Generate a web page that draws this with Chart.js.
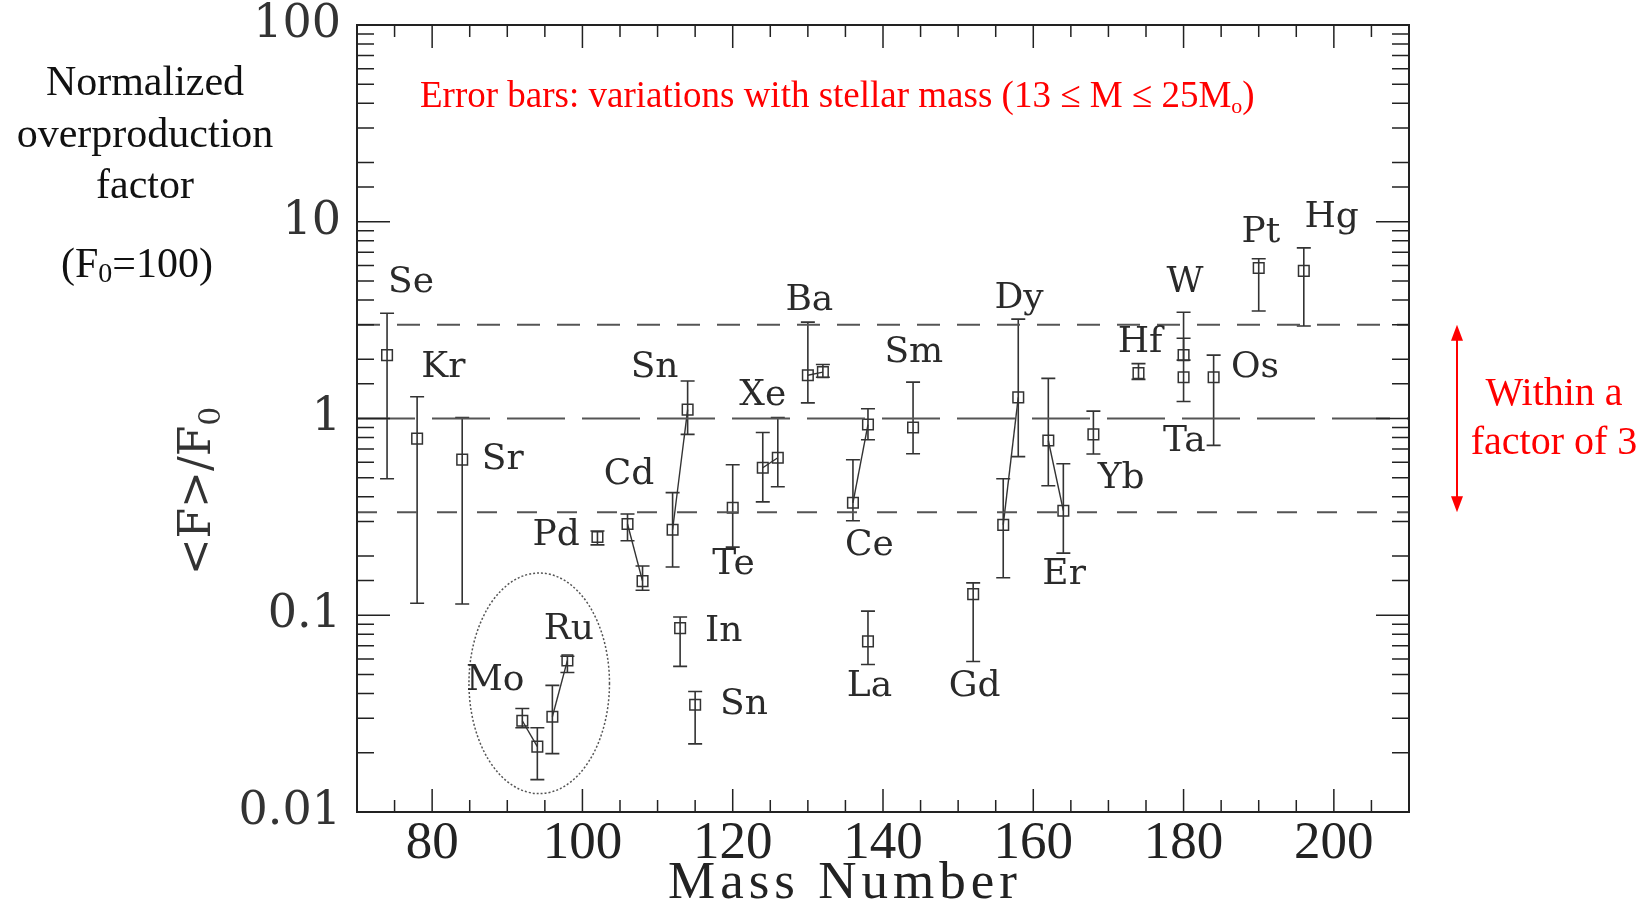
<!DOCTYPE html>
<html>
<head>
<meta charset="utf-8">
<script src="https://cdn.jsdelivr.net/npm/chart.js@4.4.0/dist/chart.umd.min.js"></script>
<style>
html, body { margin: 0; padding: 0; background: #fff; }
</style>
</head>
<body>
<canvas id="myChart" width="1646" height="905"></canvas>
<script>
// p-Kerne: Massenzahl, mittlerer Ueberproduktionsfaktor und Schwankung (Fehlerbalken)
const elements = ['Se', 'Kr', 'Sr', 'Mo', 'Mo', 'Ru', 'Ru', 'Pd', 'Cd', 'Cd', 'Sn', 'In', 'Sn', 'Sn', 'Te',
    'Xe', 'Xe', 'Ba', 'Ba', 'Ce', 'Ce', 'La', 'Sm', 'Gd', 'Dy', 'Dy', 'Er', 'Er', 'Yb', 'Hf', 'W', 'Ta',
    'Os', 'Pt', 'Hg'];
const masses = [74, 78, 84, 92, 94, 96, 98, 102, 106, 108, 112, 113, 114, 115, 120,
    124, 126, 130, 132, 136, 138, 138, 144, 152, 156, 158, 162, 164, 168, 174, 180, 180,
    184, 190, 196];
const values = [2.10, 0.79, 0.618, 0.0291, 0.0215, 0.0305, 0.059, 0.25, 0.291, 0.149, 0.272, 0.086, 1.11, 0.0351, 0.352,
    0.562, 0.632, 1.66, 1.72, 0.373, 0.932, 0.0737, 0.90, 0.128, 0.288, 1.28, 0.773, 0.34, 0.83, 1.70, 2.10, 1.62,
    1.62, 5.82, 5.63];
const errLow = [0.494, 0.115, 0.114, 0.0268, 0.0146, 0.0198, 0.0512, 0.228, 0.239, 0.134, 0.176, 0.055, 0.83, 0.0222, 0.222,
    0.377, 0.45, 1.2, 1.62, 0.302, 0.78, 0.0562, 0.662, 0.0582, 0.155, 0.64, 0.455, 0.207, 0.66, 1.58, 1.98, 1.22,
    0.73, 3.52, 2.95];
const errHigh = [3.43, 1.29, 1.01, 0.0336, 0.0268, 0.044, 0.0619, 0.268, 0.327, 0.178, 0.42, 0.098, 1.55, 0.041, 0.582,
    0.849, 1.01, 3.09, 1.88, 0.617, 1.12, 0.105, 1.53, 0.146, 0.494, 3.2, 1.6, 0.589, 1.09, 1.90, 2.56, 3.47,
    2.10, 6.48, 7.37];
// Isotope desselben Elements, die mit einer Linie verbunden sind
const linkGroup = [null, null, null, 'Mo', 'Mo', 'Ru', 'Ru', null, 'Cd', 'Cd', 'Sn', null, 'Sn', null, null,
    'Xe', 'Xe', 'Ba', 'Ba', 'Ce', 'Ce', null, null, null, 'Dy', 'Dy', 'Er', 'Er', null, null, null, null,
    null, null, null];

// Beschriftungen der Elemente (Position in Datenkoordinaten)
const labelNames = ['Se', 'Kr', 'Sr', 'Pd', 'Cd', 'Sn', 'Te', 'In', 'Sn', 'Mo', 'Ru', 'Xe', 'Ba', 'Ce', 'La',
    'Sm', 'Gd', 'Dy', 'Er', 'Yb', 'Hf', 'W', 'Ta', 'Os', 'Pt', 'Hg'];
const labelMass = [77.2, 81.5, 89.4, 96.5, 106.2, 109.6, 120.1, 118.8, 121.5, 88.4, 98.2, 124.0, 130.2, 138.2, 138.2,
    144.1, 152.2, 158.1, 164.1, 171.7, 174.2, 180.2, 180.1, 189.5, 190.3, 199.7];
const labelValue = [4.88, 1.82, 0.618, 0.253, 0.518, 1.82, 0.18, 0.083, 0.0351, 0.0466, 0.0849, 1.31, 3.95, 0.225, 0.0434,
    2.17, 0.0434, 4.05, 0.16, 0.494, 2.44, 4.88, 0.763, 1.82, 8.79, 10.5];

const xMin = 70;
const xMax = 210;
const xTickLabels = [80, 100, 120, 140, 160, 180, 200];
const yTickLabels = ['0.01', '0.1', '1', '10', '100'];
const guideValues = [3, 1, 1 / 3];
const guideDash = [[23, 17], [58, 17], [20, 20]];
const ellipseMass = [84.9, 103.6];
const ellipseValue = [0.0124, 0.164];

// Datensaetze aufbauen
const datasets = [];
guideValues.forEach((g, k) => {
    datasets.push({
        data: [{ x: xMin, y: g }, { x: xMax, y: g }],
        showLine: true,
        pointRadius: 0,
        borderColor: '#555',
        borderWidth: 2,
        borderDash: guideDash[k]
    });
});
const groups = [...new Set(linkGroup.filter(g => g))];
groups.forEach(g => {
    const pts = [];
    masses.forEach((m, i) => { if (linkGroup[i] === g) pts.push({ x: m, y: values[i] }); });
    datasets.push({
        data: pts,
        showLine: true,
        pointRadius: 0,
        borderColor: '#333',
        borderWidth: 1.4
    });
});
datasets.push({
    data: masses.map((m, i) => ({ x: m, y: values[i] })),
    pointStyle: 'rect',
    pointRadius: 7.5,
    borderWidth: 1.5,
    borderColor: '#333',
    backgroundColor: 'rgba(0,0,0,0)'
});

function isDecade(v) {
    const l = Math.log10(v);
    return Math.abs(l - Math.round(l)) < 1e-6;
}

const decor = {
    id: 'decor',
    beforeDatasetsDraw(chart) {
        const { ctx, scales: { x, y } } = chart;
        ctx.save();
        ctx.strokeStyle = '#333';
        ctx.lineWidth = 1.6;
        masses.forEach((m, i) => {
            const px = x.getPixelForValue(m);
            const top = y.getPixelForValue(errHigh[i]);
            const bot = y.getPixelForValue(errLow[i]);
            ctx.beginPath();
            ctx.moveTo(px, top); ctx.lineTo(px, bot);
            ctx.moveTo(px - 7, top); ctx.lineTo(px + 7, top);
            ctx.moveTo(px - 7, bot); ctx.lineTo(px + 7, bot);
            ctx.stroke();
        });
        ctx.restore();
    },
    afterDraw(chart) {
        const { ctx, chartArea: a, scales: { x, y } } = chart;
        ctx.save();

        // Rahmen und Ticks nach innen
        ctx.strokeStyle = '#222';
        ctx.lineWidth = 2;
        ctx.strokeRect(a.left, a.top, a.right - a.left, a.bottom - a.top);
        ctx.lineWidth = 1.5;
        ctx.beginPath();
        y.ticks.forEach(t => {
            const py = y.getPixelForValue(t.value);
            const len = isDecade(t.value) ? 33 : 17;
            ctx.moveTo(a.left, py); ctx.lineTo(a.left + len, py);
            ctx.moveTo(a.right, py); ctx.lineTo(a.right - len, py);
        });
        x.ticks.forEach(t => {
            const px = x.getPixelForValue(t.value);
            const len = t.value % 20 === 0 ? 23 : 12;
            ctx.moveTo(px, a.bottom); ctx.lineTo(px, a.bottom - len);
            ctx.moveTo(px, a.top); ctx.lineTo(px, a.top + len);
        });
        ctx.stroke();

        // gepunktete Ellipse um Mo/Ru
        const ex0 = x.getPixelForValue(ellipseMass[0]);
        const ex1 = x.getPixelForValue(ellipseMass[1]);
        const ey0 = y.getPixelForValue(ellipseValue[0]);
        const ey1 = y.getPixelForValue(ellipseValue[1]);
        ctx.strokeStyle = '#555';
        ctx.lineWidth = 1.5;
        ctx.setLineDash([2, 2]);
        ctx.beginPath();
        ctx.ellipse((ex0 + ex1) / 2, (ey0 + ey1) / 2, Math.abs(ex1 - ex0) / 2, Math.abs(ey1 - ey0) / 2, 0, 0, Math.PI * 2);
        ctx.stroke();
        ctx.setLineDash([]);

        // Elementnamen
        ctx.fillStyle = '#2a2a2a';
        ctx.font = '36px "DejaVu Serif"';
        ctx.textAlign = 'center';
        ctx.textBaseline = 'middle';
        labelNames.forEach((n, i) => {
            ctx.fillText(n, x.getPixelForValue(labelMass[i]), y.getPixelForValue(labelValue[i]));
        });

        // Achsentitel x
        ctx.fillStyle = '#222';
        ctx.font = '53px "Liberation Serif"';
        ctx.letterSpacing = '5px';
        ctx.textBaseline = 'alphabetic';
        ctx.fillText('Mass Number', 845, 898);
        ctx.letterSpacing = '0px';

        // Achsentitel y: <F>/F0
        ctx.save();
        ctx.fillStyle = '#333';
        ctx.translate(194, 491);
        ctx.rotate(-Math.PI / 2);
        ctx.font = '44px "DejaVu Serif"';
        const main = '<F>/F';
        const wMain = ctx.measureText(main).width;
        ctx.font = '30px "DejaVu Serif"';
        const wSub = ctx.measureText('0').width;
        const x0 = -(wMain + wSub) / 2;
        ctx.textAlign = 'left';
        ctx.font = '44px "DejaVu Serif"';
        ctx.fillText(main, x0, 16);
        ctx.font = '30px "DejaVu Serif"';
        ctx.fillText('0', x0 + wMain, 26);
        ctx.restore();

        // linke Beschreibung
        ctx.fillStyle = '#111';
        ctx.font = '42px "Liberation Serif"';
        ctx.textAlign = 'center';
        ctx.textBaseline = 'middle';
        ctx.fillText('Normalized', 145, 84);
        ctx.fillText('overproduction', 145, 136);
        ctx.fillText('factor', 145, 187);
        // (F0=100)
        const p1 = '(F', p2 = '=100)';
        const w1 = ctx.measureText(p1).width, w2 = ctx.measureText(p2).width;
        ctx.font = '28px "Liberation Serif"';
        const ws = ctx.measureText('0').width;
        const sx = 137 - (w1 + ws + w2) / 2;
        ctx.textAlign = 'left';
        ctx.font = '42px "Liberation Serif"';
        ctx.fillText(p1, sx, 266);
        ctx.font = '28px "Liberation Serif"';
        ctx.fillText('0', sx + w1, 275);
        ctx.font = '42px "Liberation Serif"';
        ctx.fillText(p2, sx + w1 + ws, 266);

        // rote Anmerkung oben
        ctx.fillStyle = '#ff0000';
        ctx.font = '37px "Liberation Serif"';
        const r1 = 'Error bars: variations with stellar mass (13 \u2264 M \u2264 25M';
        ctx.fillText(r1, 420, 97);
        const wr1 = ctx.measureText(r1).width;
        ctx.font = '22px "Liberation Serif"';
        ctx.fillText('o', 420 + wr1, 107);
        const wo = ctx.measureText('o').width;
        ctx.font = '37px "Liberation Serif"';
        ctx.fillText(')', 420 + wr1 + wo, 97);

        // roter Doppelpfeil: Faktor 3
        const ax = a.right + 48;
        const ay0 = y.getPixelForValue(guideValues[0]);
        const ay1 = y.getPixelForValue(guideValues[2]);
        ctx.strokeStyle = '#ff0000';
        ctx.lineWidth = 2;
        ctx.beginPath();
        ctx.moveTo(ax, ay0 + 10); ctx.lineTo(ax, ay1 - 10);
        ctx.stroke();
        ctx.beginPath();
        ctx.moveTo(ax, ay0); ctx.lineTo(ax - 6, ay0 + 16); ctx.lineTo(ax + 6, ay0 + 16); ctx.closePath();
        ctx.moveTo(ax, ay1); ctx.lineTo(ax - 6, ay1 - 16); ctx.lineTo(ax + 6, ay1 - 16); ctx.closePath();
        ctx.fill();
        ctx.font = '40px "Liberation Serif"';
        ctx.textAlign = 'center';
        ctx.fillText('Within a', 1554, 394);
        ctx.fillText('factor of 3', 1554, 443);

        ctx.restore();
    }
};

const ctx = document.getElementById('myChart').getContext('2d');
const myChart = new Chart(ctx, {
    type: 'scatter',
    data: { datasets: datasets },
    options: {
        responsive: false,
        animation: false,
        devicePixelRatio: 1,
        layout: { padding: { top: 25, right: 237, left: 0, bottom: 0 } },
        plugins: {
            legend: { display: false },
            tooltip: { enabled: false }
        },
        scales: {
            x: {
                type: 'linear',
                min: xMin,
                max: xMax,
                afterFit: s => { s.height = 93; },
                grid: { display: false, drawTicks: false },
                border: { display: false },
                ticks: {
                    stepSize: 5,
                    autoSkip: false,
                    maxRotation: 0,
                    padding: 6,
                    color: '#222',
                    font: { family: 'Liberation Serif', size: 53, lineHeight: 1 },
                    callback: v => xTickLabels.includes(v) ? String(v) : ''
                }
            },
            y: {
                type: 'logarithmic',
                min: 0.01,
                max: 100,
                afterFit: s => { s.width = 357; },
                grid: { display: false, drawTicks: false },
                border: { display: false },
                ticks: {
                    autoSkip: false,
                    padding: 16,
                    color: '#333',
                    font: { family: 'DejaVu Serif', size: 46, lineHeight: 0.3 },
                    callback: v => isDecade(v) ? yTickLabels[Math.round(Math.log10(v)) + 2] : ''
                }
            }
        }
    },
    plugins: [decor]
});
</script>
</body>
</html>
